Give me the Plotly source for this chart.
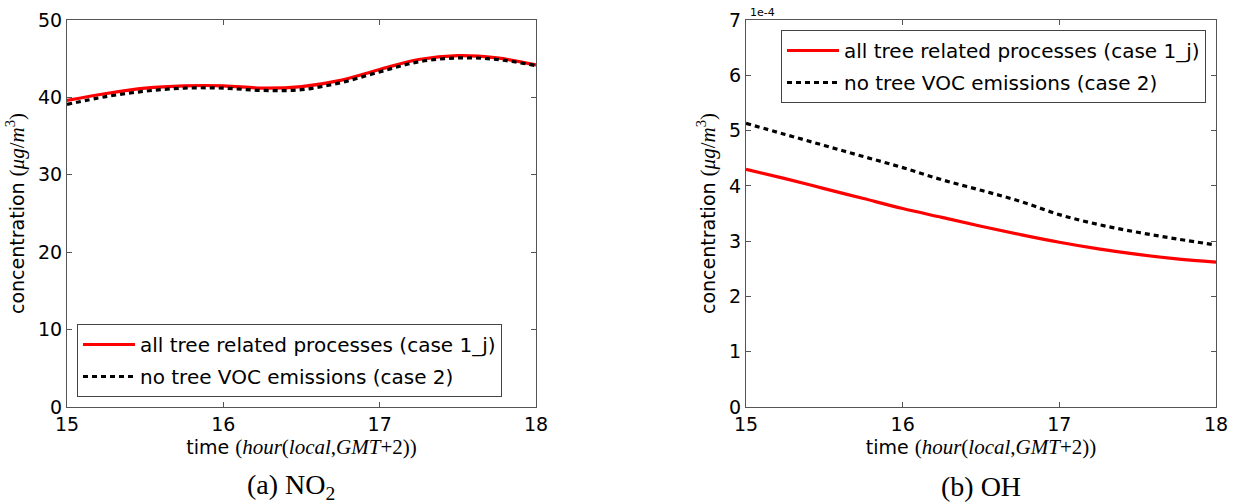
import plotly.graph_objects as go

# time in hours (local, GMT+2)
hours = [15.0, 15.25, 15.5, 15.75, 16.0, 16.25, 16.5, 16.75, 17.0, 17.25, 17.5, 17.75, 18.0]

# NO2 concentration (ug/m3)
no2_case1j = [39.6, 40.5, 41.2, 41.5, 41.5, 41.2, 41.4, 42.2, 43.6, 44.9, 45.4, 45.1, 44.2]
no2_case2 = [39.1, 40.1, 40.8, 41.2, 41.2, 40.9, 41.0, 41.9, 43.3, 44.6, 45.1, 44.9, 44.1]

# OH concentration (units of 1e-4 ug/m3)
oh_case1j = [4.30, 4.13, 3.95, 3.77, 3.59, 3.43, 3.27, 3.12, 2.98, 2.86, 2.76, 2.68, 2.62]
oh_case2 = [5.13, 4.93, 4.73, 4.53, 4.33, 4.11, 3.92, 3.72, 3.48, 3.30, 3.16, 3.04, 2.93]

name1 = "all tree related processes (case 1_j)"
name2 = "no tree VOC emissions (case 2)"

xticks = [15, 16, 17, 18]

fig = go.Figure()

red = dict(color="#ff0000", width=3.2)
blk = dict(color="#000000", width=3.2, dash="5px,4px")

fig.add_trace(go.Scatter(x=hours, y=no2_case1j, mode="lines", line=dict(red, shape="spline"), name=name1,
                         xaxis="x", yaxis="y", legend="legend", legendgroup="a1"))
fig.add_trace(go.Scatter(x=hours, y=no2_case2, mode="lines", line=dict(blk, shape="spline"), name=name2,
                         xaxis="x", yaxis="y", legend="legend", legendgroup="a2"))
fig.add_trace(go.Scatter(x=hours, y=oh_case1j, mode="lines", line=dict(red, shape="spline"), name=name1,
                         xaxis="x2", yaxis="y2", legend="legend2", legendgroup="b1"))
fig.add_trace(go.Scatter(x=hours, y=oh_case2, mode="lines", line=dict(blk, shape="spline"), name=name2,
                         xaxis="x2", yaxis="y2", legend="legend2", legendgroup="b2"))

W, H = 1236, 504
ml, mr, mt, mb = 67, 20, 20, 97
pw = W - ml - mr
ph = H - mt - mb

def px(x):
    return (x - ml) / pw

def py(y):
    return (H - mb - y) / ph

axcol = "#555555"
tickfont = dict(family="DejaVu Sans", size=19, color="black")

xtitle = ('time <span style="font-family:Liberation Serif;font-size:21px">'
          '(<i>hour</i>(<i>local</i>,<i>GMT</i>+2))</span>')
ytitle = ('concentration <span style="font-family:Liberation Serif;font-size:21px">'
          '(<i>μg</i>/<i>m</i><sup>3</sup>)</span>')

common_x = dict(range=[15, 18], tickvals=xticks, ticks="inside", ticklen=5, tickcolor=axcol,
                showline=True, linecolor=axcol, linewidth=1.2, mirror="ticks", showgrid=False,
                zeroline=False, tickfont=tickfont, automargin=False,
                title=dict(text=xtitle, font=dict(family="DejaVu Sans", size=19, color="black"), standoff=6))
common_y = dict(ticks="inside", ticklen=5, tickcolor=axcol, showline=True, linecolor=axcol,
                linewidth=1.2, mirror="ticks", showgrid=False, zeroline=False, tickfont=tickfont,
                automargin=False,
                title=dict(text=ytitle, font=dict(family="DejaVu Sans", size=19, color="black"), standoff=8))

legend_common = dict(bgcolor="white", bordercolor="#444444", borderwidth=1,
                     font=dict(family="DejaVu Sans", size=20, color="black"),
                     tracegroupgap=3, itemwidth=52)

fig.update_layout(
    width=W, height=H,
    margin=dict(l=ml, r=mr, t=mt, b=mb, autoexpand=False),
    paper_bgcolor="white", plot_bgcolor="white",
    xaxis=dict(common_x, domain=[0, px(536)], anchor="y"),
    yaxis=dict(common_y, domain=[0, 1], range=[0, 50], dtick=10, anchor="x"),
    xaxis2=dict(common_x, domain=[px(746), 1], anchor="y2"),
    yaxis2=dict(common_y, domain=[0, 1], range=[0, 7], dtick=1, anchor="x2"),
    legend=dict(legend_common, x=px(77), y=py(397), xanchor="left", yanchor="bottom"),
    legend2=dict(legend_common, x=px(1206), y=py(30), xanchor="right", yanchor="top"),
    annotations=[
        dict(text="1e-4", xref="paper", yref="paper", x=px(748), y=py(13), xanchor="left",
             yanchor="middle", showarrow=False, font=dict(family="DejaVu Sans", size=11, color="black")),
        dict(text="(a) NO<sub>2</sub>", xref="paper", yref="paper", x=px(291), y=py(486),
             xanchor="center", yanchor="middle", showarrow=False,
             font=dict(family="Liberation Serif", size=28, color="black")),
        dict(text="(b) OH", xref="paper", yref="paper", x=px(981), y=py(486),
             xanchor="center", yanchor="middle", showarrow=False,
             font=dict(family="Liberation Serif", size=28, color="black")),
    ],
)

fig.write_html("out.html", config={"displayModeBar": False},
               post_script="document.body.style.margin='0';document.body.style.padding='0';")
